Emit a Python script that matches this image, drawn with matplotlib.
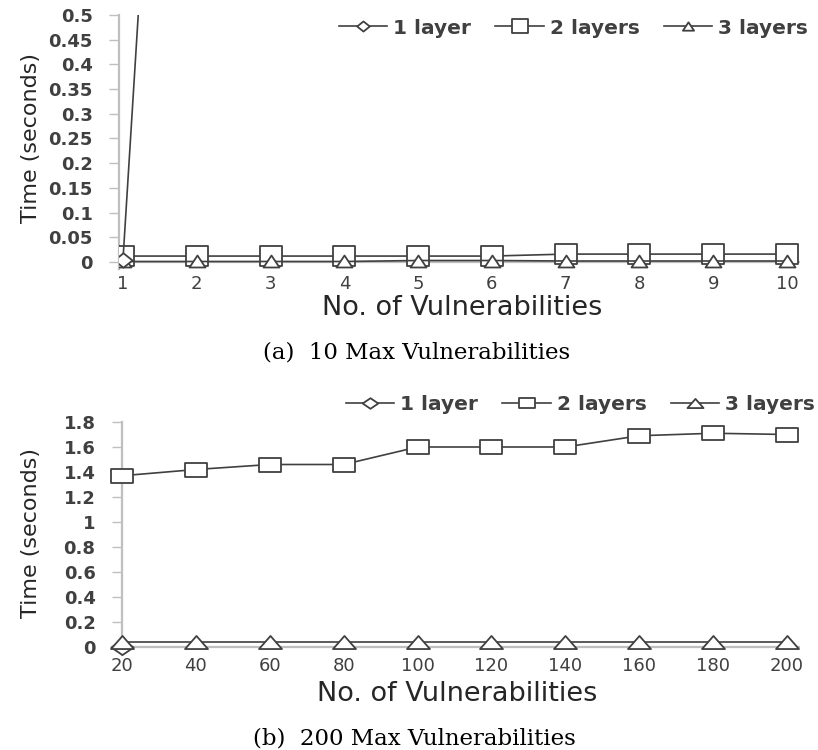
import matplotlib
matplotlib.use("Agg")
import matplotlib.pyplot as plt
from matplotlib.path import Path

# ---------------- data ----------------
top_x = [1, 2, 3, 4, 5, 6, 7, 8, 9, 10]
top_one_x = [1, 2]
top_one = [0.005, 2.4]
top_two = [0.012, 0.012, 0.012, 0.012, 0.012, 0.012, 0.016, 0.016, 0.016, 0.016]
top_three = [0.001, 0.001, 0.001, 0.001, 0.003, 0.003, 0.002, 0.002, 0.002, 0.002]
top_yticks = [0, 0.05, 0.1, 0.15, 0.2, 0.25, 0.3, 0.35, 0.4, 0.45, 0.5]
top_yticklabels = ["0", "0.05", "0.1", "0.15", "0.2", "0.25", "0.3", "0.35", "0.4", "0.45", "0.5"]

bot_x = [20, 40, 60, 80, 100, 120, 140, 160, 180, 200]
bot_one_x = [20]
bot_one = [0.0]
bot_two = [1.37, 1.42, 1.46, 1.46, 1.60, 1.60, 1.60, 1.69, 1.71, 1.70]
bot_three = [0.04, 0.04, 0.04, 0.04, 0.04, 0.04, 0.04, 0.04, 0.04, 0.04]
bot_yticks = [0, 0.2, 0.4, 0.6, 0.8, 1.0, 1.2, 1.4, 1.6, 1.8]
bot_yticklabels = ["0", "0.2", "0.4", "0.6", "0.8", "1", "1.2", "1.4", "1.6", "1.8"]

series_labels = ["1 layer", "2 layers", "3 layers"]
xlabel = "No. of Vulnerabilities"
ylabel = "Time (seconds)"
captions = ["(a)  10 Max Vulnerabilities", "(b)  200 Max Vulnerabilities"]

# ---------------- style helpers ----------------
W, H = 818, 750
LINE = "#404040"
GRID = "#bfbfbf"
TXT = "#404040"


def rect(w, h):
    return Path([(-w / 2, -h / 2), (w / 2, -h / 2), (w / 2, h / 2), (-w / 2, h / 2), (-w / 2, -h / 2)],
                [Path.MOVETO, Path.LINETO, Path.LINETO, Path.LINETO, Path.CLOSEPOLY])


def tri(w, h):
    return Path([(-w / 2, -h / 2), (w / 2, -h / 2), (0, h / 2), (-w / 2, -h / 2)],
                [Path.MOVETO, Path.LINETO, Path.LINETO, Path.CLOSEPOLY])


def diam(w, h):
    return Path([(0, -h / 2), (w / 2, 0), (0, h / 2), (-w / 2, 0), (0, -h / 2)],
                [Path.MOVETO, Path.LINETO, Path.LINETO, Path.LINETO, Path.CLOSEPOLY])


def px_axes(left, top, right, bottom):
    return [left / W, 1 - bottom / H, (right - left) / W, (bottom - top) / H]


fig = plt.figure(figsize=(W / 100, H / 100), dpi=100)
fig.patch.set_facecolor("white")


def style_axes(ax, yticks, yticklabels, xticks, xpad):
    for s in ["top", "right", "bottom"]:
        ax.spines[s].set_visible(False)
    ax.spines["left"].set_color(GRID)
    ax.spines["left"].set_linewidth(1.6)
    ax.set_yticks(yticks)
    ax.set_yticklabels(yticklabels)
    ax.set_xticks(xticks)
    ax.set_xticklabels([str(v) for v in xticks])
    ax.tick_params(axis="y", direction="out", length=7, width=1, color=GRID, pad=12,
                   labelsize=13, labelcolor=TXT)
    ax.tick_params(axis="x", length=0, pad=xpad, labelsize=13, labelcolor=TXT)
    for lab in ax.get_yticklabels():
        lab.set_fontweight("bold")
        lab.set_family("DejaVu Sans")
    for lab in ax.get_xticklabels():
        lab.set_family("DejaVu Sans")
    ax.set_facecolor("none")


mk_kw = dict(color=LINE, linewidth=1.2, markerfacecolor="white", markeredgecolor=LINE,
             markeredgewidth=1.3)

# ---------------- top panel ----------------
ax1 = fig.add_axes(px_axes(119, 15, 800, 269.5))
ax1.set_xlim(0.946, 10.176)
ax1.set_ylim(-0.0152, 0.5)
ax1.axhline(0, color=GRID, linewidth=1.6, zorder=1)
l1, = ax1.plot(top_one_x, top_one, marker=diam(1.0, 0.8), markersize=13, label=series_labels[0], zorder=5, **mk_kw)
l2, = ax1.plot(top_x, top_two, marker=rect(1.0, 0.95), markersize=15.5, label=series_labels[1], zorder=3, **mk_kw)
l3, = ax1.plot(top_x, top_three, marker=tri(1.0, 0.75), markersize=11.5, label=series_labels[2], zorder=4, **mk_kw)
style_axes(ax1, top_yticks, top_yticklabels, top_x, 4)

# ---------------- bottom panel ----------------
ax2 = fig.add_axes(px_axes(122, 422, 800, 654.5))
ax2.set_xlim(20, 203.5)
ax2.set_ylim(-0.06, 1.8)
ax2.axhline(0, color=GRID, linewidth=1.6, zorder=1)
b1, = ax2.plot(bot_one_x, bot_one, marker=diam(1.0, 0.68), markersize=16, label=series_labels[0], zorder=3, clip_on=False, **mk_kw)
b2, = ax2.plot(bot_x, bot_two, marker=rect(1.0, 0.64), markersize=16, label=series_labels[1], zorder=4, clip_on=False, **mk_kw)
b3, = ax2.plot(bot_x, bot_three, marker=tri(1.0, 0.57), markersize=16.5, label=series_labels[2], zorder=5, clip_on=False, **mk_kw)
style_axes(ax2, bot_yticks, bot_yticklabels, bot_x, 2)

# ---------------- legends ----------------
leg_kw = dict(ncol=3, frameon=False, handlelength=2.4, handletextpad=0.3, columnspacing=1.2,
              borderaxespad=0, borderpad=0, prop={"family": "DejaVu Sans", "weight": "bold", "size": 14.5},
              labelcolor=TXT)
lg1 = fig.legend(handles=[l1, l2, l3], loc="center right", bbox_to_anchor=(808 / W, 1 - 28 / H),
                 markerscale=0.7, **leg_kw)
lg2 = fig.legend(handles=[b1, b2, b3], loc="center right", bbox_to_anchor=(815 / W, 1 - 405 / H),
                 markerscale=0.7, **leg_kw)

# ---------------- labels ----------------
for yc, xc in [(308, 462), (694, 457)]:
    fig.text(xc / W, 1 - yc / H, xlabel, ha="center", va="center", fontsize=19.5,
             family="DejaVu Sans", color="#262626")
for yc in [138, 533]:
    fig.text(31 / W, 1 - yc / H, ylabel, ha="center", va="center", rotation=90, fontsize=16,
             family="DejaVu Sans", color="#262626")
for (yc, xc), cap in zip([(352, 417), (738, 414)], captions):
    fig.text(xc / W, 1 - yc / H, cap, ha="center", va="center", fontsize=16.5,
             family="DejaVu Serif", color="black")

fig.savefig("out.png", dpi=100, facecolor="white")
